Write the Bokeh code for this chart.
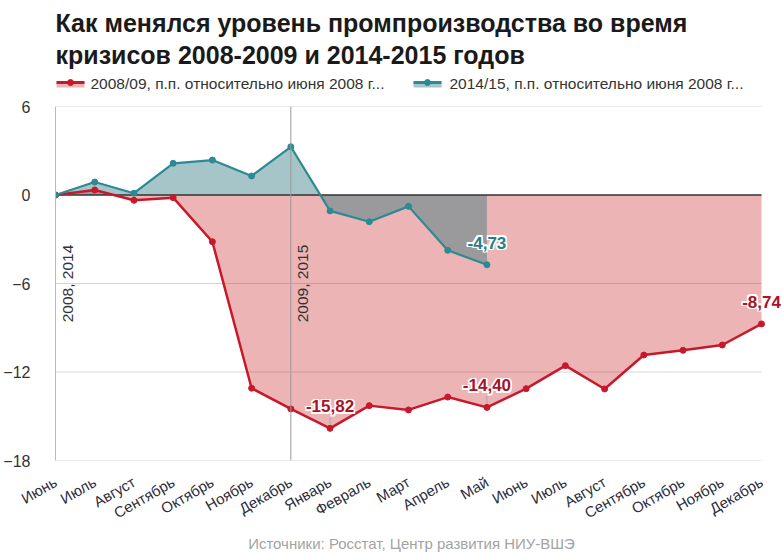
import math
from bokeh.plotting import figure
from bokeh.models import Range1d, FixedTicker, Span, Label
from bokeh.layouts import column
from bokeh.embed import file_html
from bokeh.resources import INLINE
from bokeh.core.properties import value

# ---------------- data ----------------
months = ["Июнь", "Июль", "Август", "Сентябрь", "Октябрь", "Ноябрь", "Декабрь",
          "Январь", "Февраль", "Март", "Апрель", "Май", "Июнь", "Июль", "Август",
          "Сентябрь", "Октябрь", "Ноябрь", "Декабрь"]
crisis_2008 = [0.0, 0.34, -0.36, -0.18, -3.17, -13.10, -14.50, -15.82, -14.28, -14.57,
               -13.70, -14.40, -13.13, -11.57, -13.15, -10.85, -10.53, -10.17, -8.74]
crisis_2014 = [0.0, 0.88, 0.12, 2.15, 2.37, 1.29, 3.27, -1.08, -1.81, -0.77, -3.75, -4.73]
y_ticks = [-18, -12, -6, 0, 6]
year_marks = [0, 6]
year_labels = ["2008, 2014", "2009, 2015"]
series_names = ["2008/09, п.п. относительно июня 2008 г...",
                "2014/15, п.п. относительно июня 2008 г..."]
title_lines = ["Как менялся уровень промпроизводства во время",
               "кризисов 2008-2009 и 2014-2015 годов"]
source_text = "Источники: Росстат, Центр развития НИУ-ВШЭ"
red_callouts = [7, 11, 18]
teal_callouts = [11]
connector_callouts = [7, 11]

RED = "#c8182c"
RED_FILL = "#c51b1b"
TEAL = "#2b8a94"
TEAL_FILL = "#2e7980"
FONT_NAME = "Liberation Sans"
FONT = value(FONT_NAME)

W = 782
LEFT = 55           # frame left edge (px)
PLOT_W = 706        # px between first and last month
FRAME_W = W - LEFT  # frame reaches right edge so end labels are not clipped
H_HEAD, H_MAIN, H_FOOT = 98, 434, 20


def clean(fig):
    fig.outline_line_color = None
    fig.background_fill_color = "white"
    fig.border_fill_color = "white"


# ---------------- header ----------------
h = figure(width=W, height=H_HEAD, x_range=Range1d(LEFT, W), y_range=Range1d(H_HEAD, 0),
           x_axis_type=None, y_axis_type=None, title_location=None,
           min_border_left=LEFT, min_border_right=0, min_border_top=0, min_border_bottom=0,
           output_backend="svg", toolbar_location=None)
clean(h)
h.text(x=[55, 55], y=[22, 54], text=title_lines, text_font=FONT, text_font_style="bold",
       text_font_size="25px", text_color="#1a1a1a", text_baseline="middle")
for x0, col, fcol, falpha in [(56, RED, RED_FILL, 0.33), (413, TEAL, TEAL_FILL, 0.43)]:
    h.quad(left=[x0], right=[x0 + 28], top=[82], bottom=[87], fill_color=fcol,
           fill_alpha=falpha, line_color=None)
    h.line([x0, x0 + 28], [82, 82], line_color=col, line_width=3)
    h.scatter([x0 + 14], [82], size=6, fill_color=col, line_color=col)
h.text(x=[90, 449], y=[83, 83], text=series_names, text_font=FONT, text_font_size="15.5px",
       text_color="#333333", text_baseline="middle")

# ---------------- main chart ----------------
n = len(months)
x_end = (n - 1) * FRAME_W / PLOT_W
p = figure(width=W, height=H_MAIN, x_range=Range1d(0, x_end), y_range=Range1d(-18, 6),
           title_location=None,
           min_border_left=LEFT, min_border_right=0, min_border_top=8, min_border_bottom=72,
           output_backend="svg", toolbar_location=None)
clean(p)
xs = list(range(n))
xs14 = xs[:len(crisis_2014)]

grid_vals = [t for t in y_ticks if t != 0]
p.segment(x0=[xs[0]] * len(grid_vals), y0=grid_vals, x1=[xs[-1]] * len(grid_vals),
          y1=grid_vals, line_color="#d6d6d6", line_width=1)

p.varea(x=xs, y1=0, y2=crisis_2008, fill_color=RED_FILL, fill_alpha=0.33)
p.varea(x=xs14, y1=0, y2=crisis_2014, fill_color=TEAL_FILL, fill_alpha=0.43)

p.segment(x0=[xs[0]], y0=[0], x1=[xs[-1]], y1=[0], line_color="#333333", line_width=1.5)
for m in year_marks[1:]:
    p.add_layout(Span(location=m, dimension="height", line_color="#9a9a9a", line_width=1))

p.segment(x0=connector_callouts, y0=[crisis_2008[i] for i in connector_callouts],
          x1=connector_callouts, y1=[crisis_2008[i] + 0.8 for i in connector_callouts],
          line_color="#aaaaaa", line_width=1)

p.line(xs, crisis_2008, line_color=RED, line_width=2.5)
p.scatter(xs, crisis_2008, size=6, fill_color=RED, line_color=RED)
p.line(xs14, crisis_2014, line_color=TEAL, line_width=2.2)
p.scatter(xs14, crisis_2014, size=6, fill_color=TEAL, line_color=TEAL)

p.text(x=year_marks, y=[-6, -6], text=year_labels, angle=math.pi / 2, x_offset=3,
       text_align="center", text_baseline="top", text_font=FONT, text_font_size="15.5px",
       text_color="#333333")


def callout(xv, yv, color):
    txt = f"{yv:.2f}".replace(".", ",")
    for dx in (-1.5, 0, 1.5):
        for dy in (-1.5, 0, 1.5):
            if dx == 0 and dy == 0:
                continue
            p.add_layout(Label(x=xv, y=yv, text=txt, x_offset=dx, y_offset=22 + dy,
                               text_align="center", text_baseline="middle", text_font=FONT_NAME,
                               text_font_style="bold", text_font_size="17px",
                               text_color="white"))
    p.add_layout(Label(x=xv, y=yv, text=txt, x_offset=0, y_offset=22,
                       text_align="center", text_baseline="middle", text_font=FONT_NAME,
                       text_font_style="bold", text_font_size="17px", text_color=color))


for i in red_callouts:
    callout(i, crisis_2008[i], "#a8122a")
for i in teal_callouts:
    callout(i, crisis_2014[i], "#237f8a")

p.xaxis.ticker = FixedTicker(ticks=xs)
p.xaxis.major_label_overrides = {i: m for i, m in enumerate(months)}
p.xaxis.major_label_orientation = math.pi / 6
p.xaxis.major_label_text_font = FONT_NAME
p.xaxis.major_label_text_font_size = "15px"
p.xaxis.major_label_text_color = "#2d2d3d"
p.xaxis.major_tick_line_color = None
p.xaxis.minor_tick_line_color = None
p.xaxis.axis_line_color = None
p.xaxis.major_label_standoff = 14

p.yaxis.ticker = FixedTicker(ticks=y_ticks)
p.yaxis.major_label_text_font = FONT_NAME
p.yaxis.major_label_text_font_size = "16px"
p.yaxis.major_label_text_color = "#333333"
p.yaxis.major_tick_line_color = None
p.yaxis.minor_tick_line_color = None
p.yaxis.axis_line_color = "#bbbbbb"
p.yaxis.major_label_standoff = 19

p.xgrid.visible = False
p.ygrid.visible = False

# ---------------- footer ----------------
f = figure(width=W, height=H_FOOT, x_range=Range1d(LEFT, W),
           y_range=Range1d(H_HEAD + H_MAIN + H_FOOT, H_HEAD + H_MAIN),
           x_axis_type=None, y_axis_type=None, title_location=None,
           min_border_left=LEFT, min_border_right=0, min_border_top=0, min_border_bottom=0,
           output_backend="svg", toolbar_location=None)
clean(f)
f.text(x=[411], y=[543], text=[source_text], text_font=FONT, text_font_size="15px",
       text_color="#a3a3a3", text_align="center", text_baseline="middle")

layout = column(h, p, f, spacing=0)
open("out.html", "w").write(file_html(layout, INLINE))
